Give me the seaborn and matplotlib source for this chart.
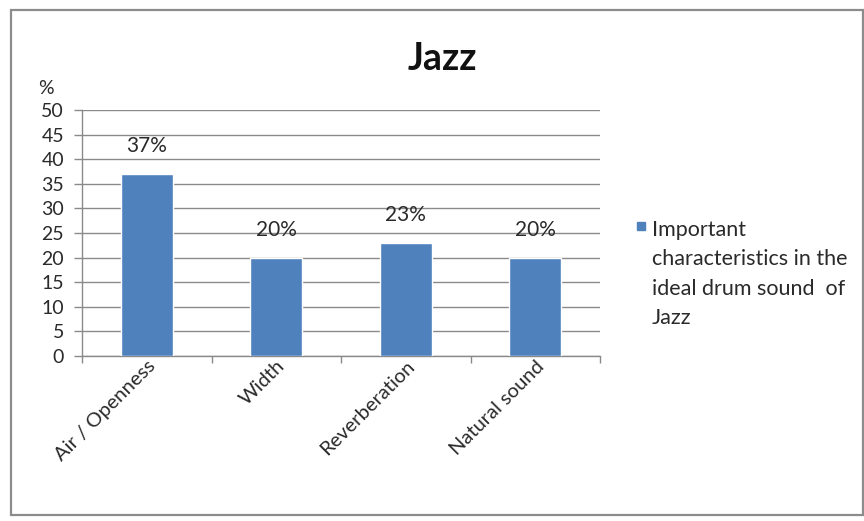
import matplotlib
matplotlib.use("Agg")
import matplotlib.pyplot as plt
import seaborn as sns
import pandas as pd
from matplotlib.patches import Rectangle

categories = ["Air / Openness", "Width", "Reverberation", "Natural sound"]
values = [37, 20, 23, 20]
value_labels = ["37%", "20%", "23%", "20%"]
yticks = [0, 5, 10, 15, 20, 25, 30, 35, 40, 45, 50]
title = "Jazz"
series_name = "Important\ncharacteristics in the\nideal drum sound  of\nJazz"

sns.set_style("white")
plt.rcParams["font.family"] = ["Lato", "DejaVu Sans"]

df = pd.DataFrame({"category": categories, "value": values})
W, H = 864, 521
text_color = "#2a2a2a"
line_color = "#8a8a8a"
bar_color = "#4F81BD"

fig = plt.figure(figsize=(W / 100, H / 100), dpi=100)
fig.patch.set_facecolor("white")

# outer chart frame
fig.add_artist(Rectangle((11 / W, 1 - 515 / H), 852 / W, 505 / H,
                         transform=fig.transFigure, fill=False,
                         edgecolor="#8c8c8c", linewidth=1.6))

ax = fig.add_axes([82 / W, 1 - 356 / H, 518 / W, 246 / H])
sns.barplot(data=df, x="category", y="value", color=bar_color, width=0.4,
            saturation=1, ax=ax, zorder=3)

ax.set_ylim(0, 50)
ax.set_xlim(-0.5, len(categories) - 0.5)
ax.set_yticks(yticks)
ax.set_yticklabels([str(t) for t in yticks], fontsize=14, color=text_color)
ax.yaxis.grid(True, color=line_color, linewidth=1.0, zorder=0)
ax.set_axisbelow(True)
ax.tick_params(axis="y", length=6, width=1.0, color=line_color, pad=7, left=True)
ax.set_xlabel("")
ax.set_ylabel("")

# category separators on the x axis
ax.set_xticks([i - 0.5 for i in range(len(categories) + 1)], minor=True)
ax.tick_params(axis="x", which="minor", length=5, width=1.0, color=line_color,
               bottom=True, direction="out")
ax.tick_params(axis="x", which="major", length=0, pad=1)
ax.set_xticks(range(len(categories)))
ax.set_xticklabels(categories, rotation=45, ha="right", rotation_mode="anchor",
                   fontsize=14.5, color=text_color)

for side in ["top", "right"]:
    ax.spines[side].set_visible(False)
for side in ["left", "bottom"]:
    ax.spines[side].set_color(line_color)
    ax.spines[side].set_linewidth(1.0)

for i, (v, t) in enumerate(zip(values, value_labels)):
    ax.annotate(t, (i, v), xytext=(0, 20), textcoords="offset points",
                ha="center", va="center", fontsize=15, color=text_color)

fig.text(46 / W, 1 - 88 / H, "%", ha="center", va="center",
         fontsize=14, color=text_color)

fig.text(442 / W, 1 - 59 / H, title, ha="center", va="center",
         fontsize=27, fontweight="bold", color="#111111")

# legend: swatch plus wrapped series name
fig.add_artist(Rectangle((637 / W, 1 - 230 / H), 8 / W, 8 / H,
                         transform=fig.transFigure, facecolor=bar_color,
                         edgecolor=bar_color))
fig.text(652 / W, 1 - 220 / H, series_name, ha="left", va="top",
         fontsize=15.5, color=text_color, linespacing=1.58)

fig.savefig("out.png", dpi=100, facecolor="white")
